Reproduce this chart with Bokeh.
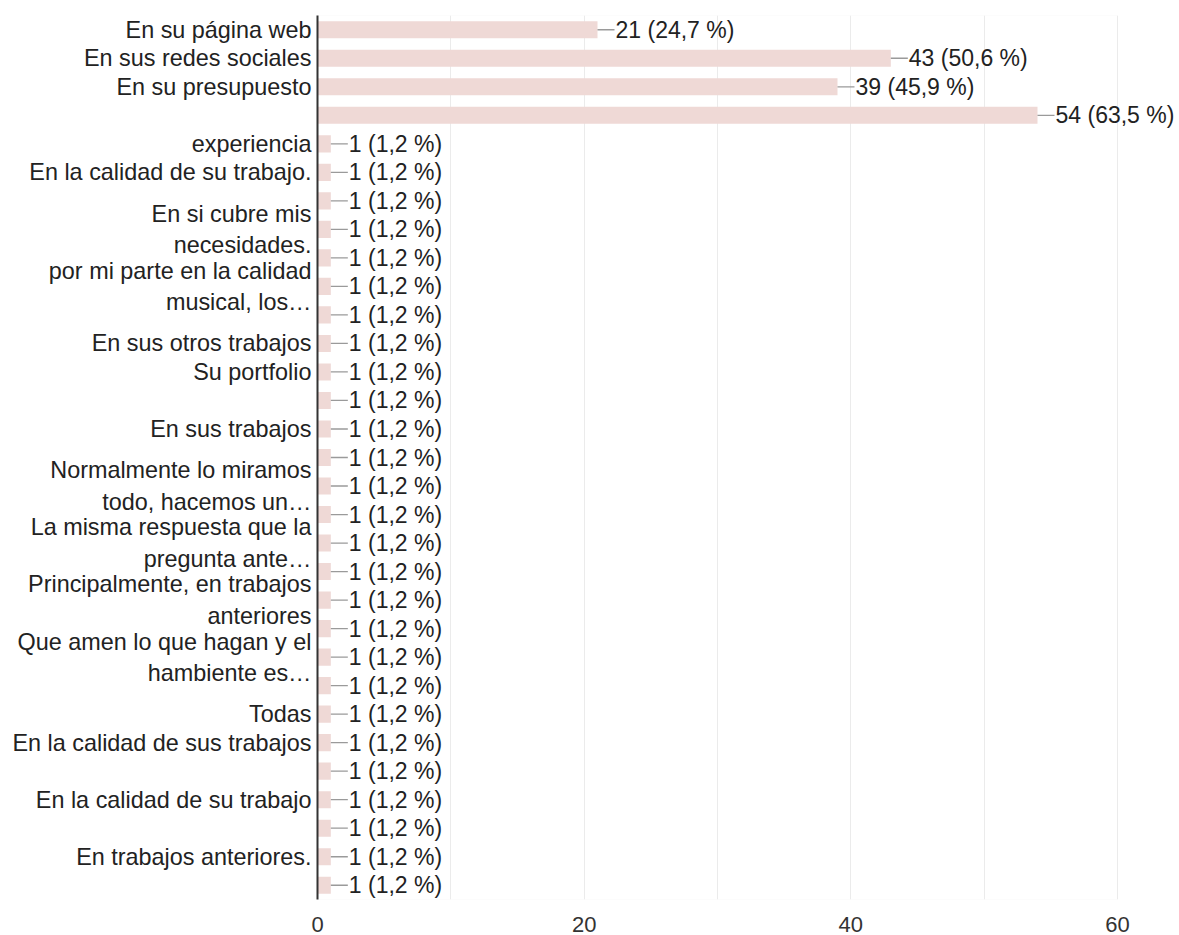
from bokeh.plotting import figure
from bokeh.models import Range1d, FixedTicker, BoxAnnotation, ColumnDataSource
from bokeh.core.properties import value
from bokeh.embed import file_html
from bokeh.resources import INLINE

# ---- data ----
labels = [
    "En su página web",
    "En sus redes sociales",
    "En su presupuesto",
    "",
    "experiencia",
    "En la calidad de su trabajo.",
    "",
    "En si cubre mis\nnecesidades.",
    "",
    "por mi parte en la calidad\nmusical, los…",
    "",
    "En sus otros trabajos",
    "Su portfolio",
    "",
    "En sus trabajos",
    "",
    "Normalmente lo miramos\ntodo, hacemos un…",
    "",
    "La misma respuesta que la\npregunta ante…",
    "",
    "Principalmente, en trabajos\nanteriores",
    "",
    "Que amen lo que hagan y el\nhambiente es…",
    "",
    "Todas",
    "En la calidad de sus trabajos",
    "",
    "En la calidad de su trabajo",
    "",
    "En trabajos anteriores.",
    "",
]
counts = [21, 43, 39, 54, 1, 1, 1, 1, 1, 1, 1, 1, 1, 1, 1, 1,
          1, 1, 1, 1, 1, 1, 1, 1, 1, 1, 1, 1, 1, 1, 1]
total_responses = 85
x_ticks = [0, 20, 40, 60]
grid_ticks = [10, 20, 30, 40, 50, 60]

# ---- derived ----
n = len(counts)
ys = [i + 0.5 for i in range(n)]
texts = []
for c in counts:
    pct = f"{100 * c / total_responses:.1f}".replace(".", ",")
    texts.append(f"{c} ({pct} %)")
src = ColumnDataSource(dict(y=ys, v=counts, t=texts))

FONT = "Liberation Sans"

p = figure(width=1179, height=935, output_backend="svg", toolbar_location=None,
           x_range=Range1d(0, 64.65), y_range=Range1d(n, 0),
           min_border_left=317, min_border_right=0, min_border_top=15,
           min_border_bottom=36)
p.outline_line_color = None
p.background_fill_color = "white"

# grid
p.ygrid.visible = False
p.xgrid.ticker = FixedTicker(ticks=grid_ticks)
p.xgrid.grid_line_color = "#ebebeb"
p.xgrid.grid_line_width = 1
p.add_layout(BoxAnnotation(left=0, right=60, fill_alpha=0, line_color="#ebebeb",
                           line_width=1, level="underlay"))

# bars
p.hbar(y="y", right="v", left=0, height=0.6, source=src,
       fill_color="#efd9d6", line_color=None)

# connector lines and value labels
p.ray(x="v", y="y", length=17, length_units="screen", angle=0, source=src,
      line_color="#9a9a9a", line_width=1.3)
p.text(x="v", y="y", text="t", x_offset=18, source=src,
       text_baseline="middle", text_align="left", text_font_size="23px",
       text_color="#222222", text_font=value(FONT))

# y axis
yax = p.yaxis[0]
yax.ticker = FixedTicker(ticks=[ys[i] for i, l in enumerate(labels) if l])
yax.major_label_overrides = {ys[i]: l for i, l in enumerate(labels) if l}
yax.major_tick_line_color = None
yax.minor_tick_line_color = None
yax.axis_line_color = "#333333"
yax.axis_line_width = 2
yax.major_label_standoff = 0
yax.major_label_text_font_size = "23.4px"
yax.major_label_text_font = FONT
yax.major_label_text_color = "#222222"
yax.major_label_text_line_height = 1.2

# x axis
xax = p.xaxis[0]
xax.ticker = FixedTicker(ticks=x_ticks)
xax.axis_line_color = None
xax.major_tick_line_color = None
xax.minor_tick_line_color = None
xax.major_label_standoff = 11
xax.major_label_text_font_size = "22px"
xax.major_label_text_font = FONT
xax.major_label_text_color = "#333333"

open("out.html", "w").write(file_html(p, INLINE))
